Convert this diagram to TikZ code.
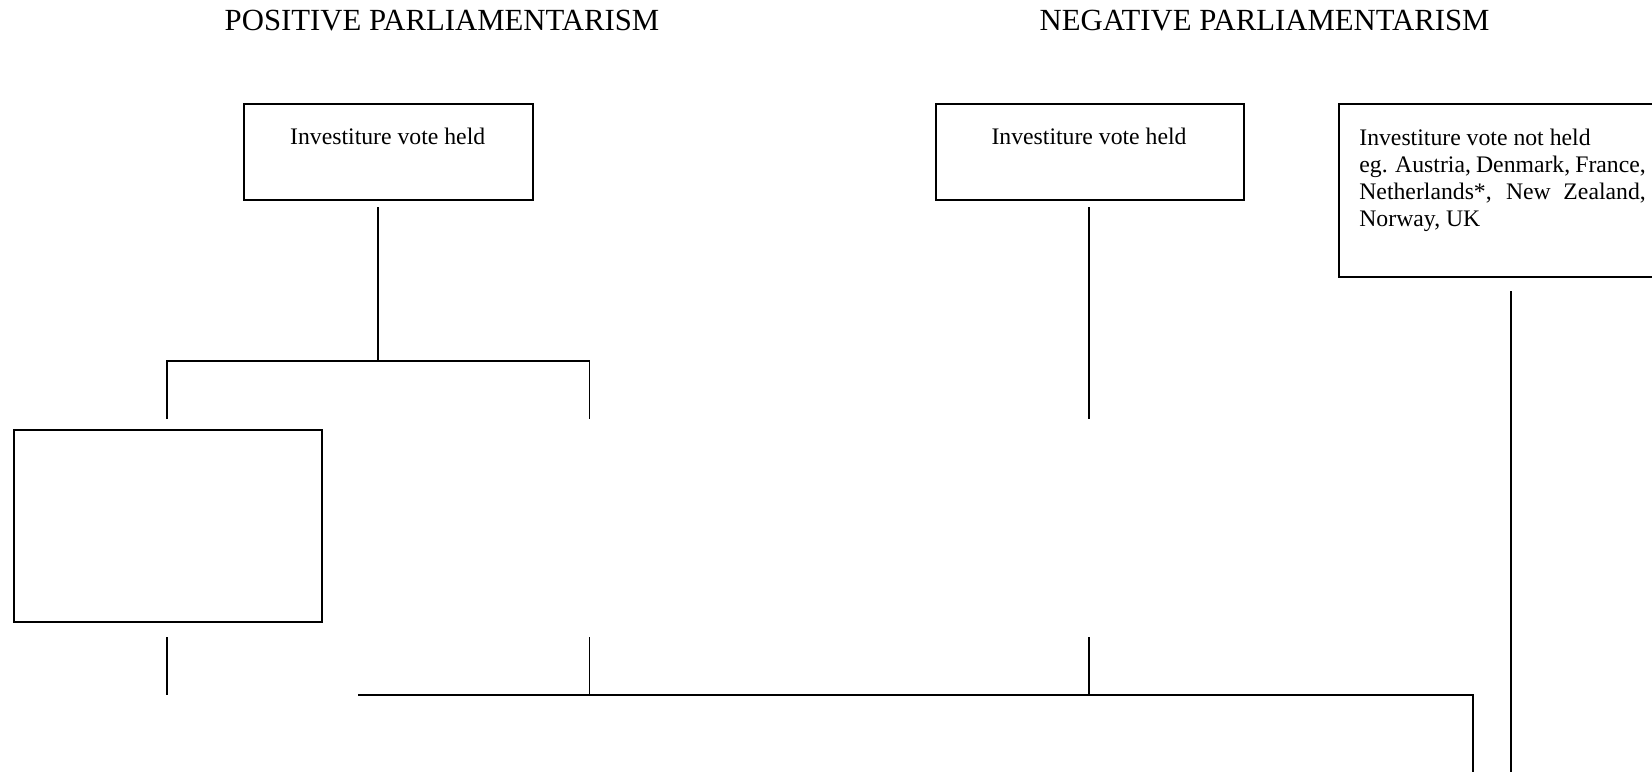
\documentclass[tikz,border=0pt]{standalone}
\usepackage{fontspec}
\setmainfont{Liberation Serif}
\tikzset{my box/.style={draw, line width=1.1pt, inner sep=0pt, anchor=north west},
my title/.style={font=\fontsize{17.5}{20}\selectfont, inner sep=0pt, anchor=base},
my text/.style={font=\fontsize{13.5}{15.3}\selectfont, inner sep=0pt, anchor=base},
my line/.style={line width=1pt},}

\begin{document}
\begin{tikzpicture}[x=0.02cm, y=-0.02cm]
\useasboundingbox (0,0) rectangle (1652,771);
\clip (0,0) rectangle (1652,771);
\node [my title] (postitle) at ( 442.0,  30.0) {POSITIVE PARLIAMENTARISM};
\node [my title] (negtitle) at (1264.6,  30.0) {NEGATIVE PARLIAMENTARISM};
\node [my box, minimum width=5.77cm, minimum height=1.93cm] (posvote) at ( 243.4, 102.7) {};
\node [my box, minimum width=6.16cm, minimum height=1.93cm] (negvote) at ( 935.0, 102.7) {};
\node [my box, minimum width=6.84cm, minimum height=3.46cm] (notheld) at (1338.0, 102.7) {};
\node [my box, minimum width=6.16cm, minimum height=3.84cm] (blank) at (  13.0, 429.0) {};
\node [my text] (postext) at ( 387.7, 144.0) {Investiture vote held};
\node [my text] (negtext) at (1089.0, 144.0) {Investiture vote held};
\node [my text, anchor=north west, text width=5.73cm, align=justify] (nottext) at (1359.0, 128.8)
  {Investiture vote not held\\ eg. Austria, Denmark, France, Netherlands*, New Zealand, Norway, UK};
% connector ends
\coordinate (p1) at ( 378.3, 207.0);
\coordinate (p2) at ( 378.3, 360.7);
\coordinate (l1) at ( 167.0, 360.7);
\coordinate (l2) at ( 167.0, 419.0);
\coordinate (r1) at ( 589.6, 360.7);
\coordinate (r2) at ( 589.6, 419.0);
\coordinate (l3) at ( 167.0, 637.0);
\coordinate (l4) at ( 167.0, 695.0);
\coordinate (r3) at ( 589.6, 637.0);
\coordinate (r4) at ( 589.6, 695.0);
\coordinate (n1) at (1089.0, 207.0);
\coordinate (n2) at (1089.0, 419.0);
\coordinate (n3) at (1089.0, 637.0);
\coordinate (n4) at (1089.0, 695.0);
\coordinate (b1) at ( 358.0, 695.0);
\coordinate (b2) at (1473.0, 695.0);
\coordinate (b3) at (1473.0, 780.0);
\coordinate (h1) at (1511.0, 291.0);
\coordinate (h2) at (1511.0, 780.0);
\draw [my line] (p1) -- (p2);
\draw [my line] (l2) -- (l1) -- (r1) -- (r2);
\draw [my line] (l3) -- (l4);
\draw [my line] (r3) -- (r4);
\draw [my line] (n1) -- (n2);
\draw [my line] (n3) -- (n4);
\draw [my line] (b1) -- (b2) -- (b3);
\draw [my line] (h1) -- (h2);
\end{tikzpicture}
\end{document}
